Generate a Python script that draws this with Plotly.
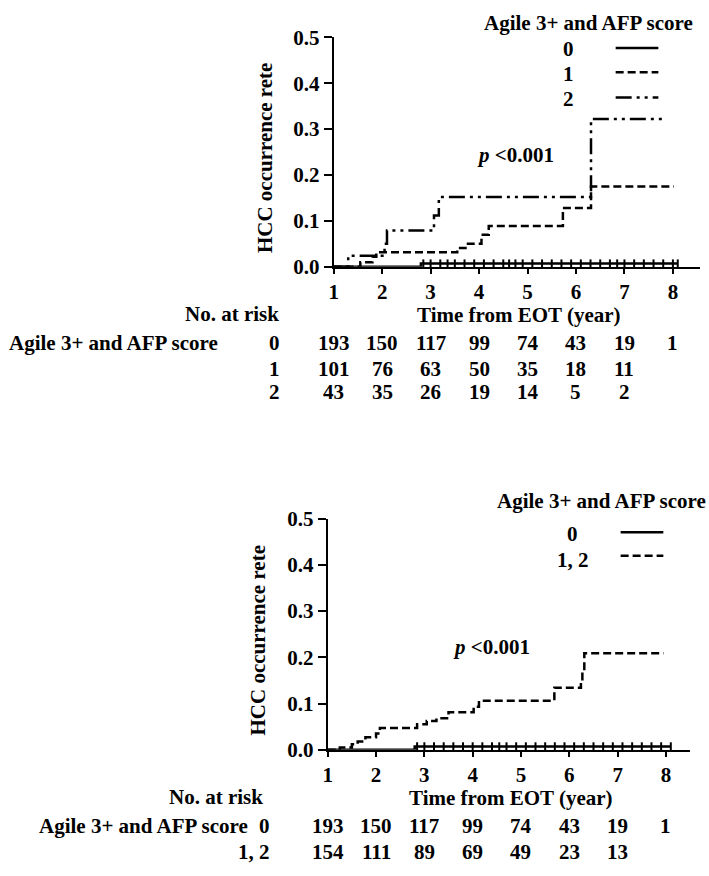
import plotly.graph_objects as go

W, H = 709, 876
FONT = "Liberation Serif"
FS = 21

# ---------------- data ----------------
year_ticks = [1, 2, 3, 4, 5, 6, 7, 8]
y_ticks = [0.0, 0.1, 0.2, 0.3, 0.4, 0.5]

# top panel (score 0 / 1 / 2)
top_g0_t = [1.0, 2.8, 8.1]
top_g0_y = [0.0, 0.007, 0.007]
top_g0_cens = [2.85, 3.0, 3.2, 3.35, 3.5, 3.7, 3.9, 4.1, 4.3, 4.5, 4.62, 4.75, 4.9,
               5.1, 5.3, 5.5, 5.7, 5.9, 6.1, 6.3, 6.5, 6.7, 6.85, 7.0, 7.2, 7.4,
               7.6, 7.8, 8.0, 8.1]
top_g1_t = [1.0, 1.55, 1.8, 1.88, 3.55, 3.72, 4.05, 4.2, 5.73, 6.31, 8.02]
top_g1_y = [0.0, 0.010, 0.022, 0.032, 0.041, 0.050, 0.070, 0.089, 0.128, 0.175, 0.175]
top_g2_t = [1.0, 1.3, 2.05, 2.1, 3.07, 3.17, 6.31, 7.82]
top_g2_y = [0.0, 0.024, 0.050, 0.079, 0.112, 0.152, 0.322, 0.322]

top_risk_0 = [193, 150, 117, 99, 74, 43, 19, 1]
top_risk_1 = [101, 76, 63, 50, 35, 18, 11]
top_risk_2 = [43, 35, 26, 19, 14, 5, 2]

# bottom panel (score 0 / 1,2)
bot_g0_t = [1.0, 2.8, 8.1]
bot_g0_y = [0.0, 0.007, 0.007]
bot_g0_cens = [2.85, 3.0, 3.2, 3.4, 3.6, 3.8, 4.0, 4.2, 4.4, 4.55, 4.7, 4.9, 5.1,
               5.3, 5.5, 5.7, 5.9, 6.1, 6.3, 6.5, 6.7, 6.9, 7.1, 7.3, 7.5, 7.7,
               7.9, 8.1]
bot_g12_t = [1.0, 1.25, 1.5, 1.62, 1.78, 2.0, 2.08, 2.85, 3.05, 3.25, 3.5, 4.02,
             4.13, 5.69, 6.24, 6.27, 6.31, 7.95]
bot_g12_y = [0.0, 0.005, 0.012, 0.018, 0.027, 0.035, 0.047, 0.055, 0.062, 0.068,
             0.081, 0.093, 0.106, 0.134, 0.150, 0.170, 0.209, 0.209]

bot_risk_0 = [193, 150, 117, 99, 74, 43, 19, 1]
bot_risk_12 = [154, 111, 89, 69, 49, 23, 13]

legend_title = "Agile 3+ and AFP score"
top_groups = ["0", "1", "2"]
bot_groups = ["0", "1, 2"]

DASH0 = "solid"
DASH1 = "8px,4px"
DASH2 = "16px,5px,3px,5px,3px,5px"
LW = 2.5

# ---------------- figure ----------------
fig = go.Figure()


def step(x, y, xa, ya, dash):
    fig.add_trace(go.Scatter(x=x, y=y, xaxis=xa, yaxis=ya, mode="lines",
                             line=dict(shape="hv", color="black", width=LW, dash=dash),
                             showlegend=False, hoverinfo="skip", cliponaxis=False))


def cens(x, yval, xa, ya):
    fig.add_trace(go.Scatter(x=x, y=[yval] * len(x), xaxis=xa, yaxis=ya, mode="markers",
                             marker=dict(symbol="line-ns", size=6,
                                         line=dict(color="black", width=2)),
                             showlegend=False, hoverinfo="skip", cliponaxis=False))


step(top_g0_t, top_g0_y, "x", "y", DASH0)
cens(top_g0_cens, top_g0_y[-1], "x", "y")
step(top_g1_t, top_g1_y, "x", "y", DASH1)
step(top_g2_t, top_g2_y, "x", "y", DASH2)

step(bot_g0_t, bot_g0_y, "x2", "y2", DASH0)
cens(bot_g0_cens, bot_g0_y[-1], "x2", "y2")
step(bot_g12_t, bot_g12_y, "x2", "y2", DASH1)


def px(x):
    return x / W


def py(y):
    return 1 - y / H


axis_common = dict(showline=True, linecolor="black", linewidth=2, ticks="outside",
                   tickcolor="black", tickwidth=2, showgrid=False, zeroline=False,
                   tickfont=dict(family=FONT, size=FS, color="black", weight="bold"))

fig.update_layout(
    width=W, height=H, autosize=False,
    margin=dict(l=0, r=0, t=0, b=0),
    paper_bgcolor="white", plot_bgcolor="white",
    font=dict(family=FONT, size=FS, color="black"),
    xaxis=dict(domain=[px(331), px(699.5)], range=[1, 8.55], tickvals=year_ticks,
               ticklen=5, anchor="y", **axis_common),
    yaxis=dict(domain=[py(262), py(26)], range=[0, 0.5], tickvals=y_ticks,
               tickformat=".1f", ticklen=8, anchor="x", **axis_common),
    xaxis2=dict(domain=[px(325), px(690)], range=[1, 8.5], tickvals=year_ticks,
                ticklen=5, anchor="y2", **axis_common),
    yaxis2=dict(domain=[py(758.5), py(521)], range=[0, 0.5], tickvals=y_ticks,
                tickformat=".1f", ticklen=8, anchor="x2", **axis_common),
)

ann = []


def text(t, x, y, xanchor="center", angle=0, xref="paper"):
    ann.append(dict(text=t, x=x, y=py(y), xref=xref, yref="paper",
                    xanchor=xanchor, yanchor="middle", showarrow=False,
                    textangle=angle, borderpad=0,
                    font=dict(family=FONT, size=FS, color="black", weight="bold")))


# ---- top panel texts ----
text("HCC occurrence rete", px(262), 150, angle=-90)
text("<i>p</i> &lt;0.001", px(514), 147)
text(legend_title, px(588), 11)
for g, yy in zip(top_groups, [38, 64, 89]):
    text(g, px(567), yy)
text("Time from EOT (year)", px(518), 312)
text("No. at risk", px(277), 311, xanchor="right")
text(legend_title, px(3), 340, xanchor="left")
for g, yy, row in zip(top_groups, [340, 367, 391], [top_risk_0, top_risk_1, top_risk_2]):
    text(g, px(271), yy)
    for t, v in zip(year_ticks, row):
        text(str(v), t, yy, xref="x")

# ---- bottom panel texts ----
text("HCC occurrence rete", px(255), 646, angle=-90)
text("<i>p</i> &lt;0.001", px(490), 653)
text(legend_title, px(601), 503)
text(bot_groups[0], px(572), 537)
text(bot_groups[1], px(572), 563)
text("Time from EOT (year)", px(510), 808)
text("No. at risk", px(261), 807, xanchor="right")
text(legend_title, px(33), 837, xanchor="left")
text(bot_groups[0], px(268), 837, xanchor="right")
text(bot_groups[1], px(268), 864, xanchor="right")
for t, v in zip(year_ticks, bot_risk_0):
    text(str(v), t, 837, xref="x2")
for t, v in zip(year_ticks, bot_risk_12):
    text(str(v), t, 864, xref="x2")

fig.update_layout(annotations=ann)

# ---- legend samples (shapes) ----
shapes = []


def sample(x0, x1, y, dash):
    shapes.append(dict(type="line", xref="paper", yref="paper",
                       x0=px(x0), x1=px(x1), y0=py(y), y1=py(y),
                       line=dict(color="black", width=LW, dash=dash)))


sample(615, 658, 37, DASH0)
sample(615, 658, 62, DASH1)
sample(615, 658, 88, DASH2)
sample(620, 663, 535, DASH0)
sample(620, 663, 559, DASH1)
fig.update_layout(shapes=shapes)

fig.write_html("out.html")
